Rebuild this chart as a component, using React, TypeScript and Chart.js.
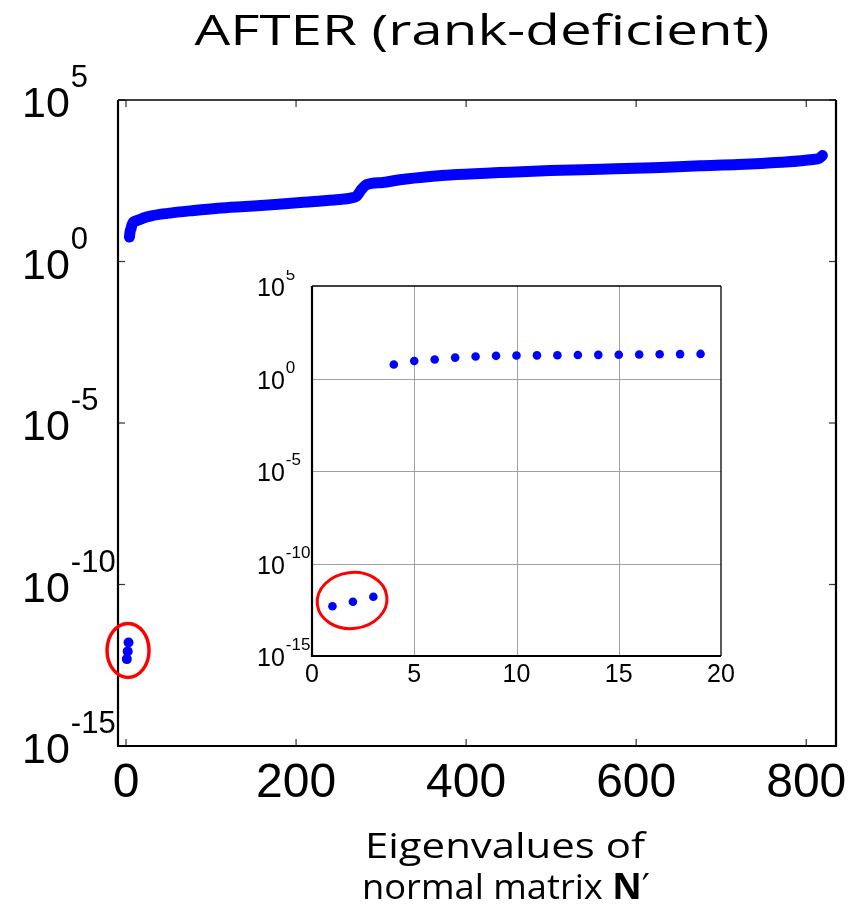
import React, { useEffect, useRef } from "react";
import { Chart, registerables } from "chart.js";
Chart.register(...registerables);

// ---------- data ----------
const TITLE = "AFTER (rank-deficient)";
const XTITLE_1 = "Eigenvalues of";
const XTITLE_2 = "normal matrix ";
const XTITLE_2_BOLD = "N";
const XTITLE_2_END = "\u2032";

const mainXTicks = [0, 200, 400, 600, 800];
const logExps = [5, 0, -5, -10, -15];
const insetXTicks = [0, 5, 10, 15, 20];
const insetGridX = [5, 10, 15];
const insetGridExps = [0, -5, -10];

// near-zero eigenvalues (rank deficiency)
const nullIdx = [1, 2, 3];
const nullVals = [4.9e-13, 8.5e-13, 1.6e-12];

// first regular eigenvalues
const insetIdx = [4, 5, 6, 7, 8, 9, 10, 11, 12, 13, 14, 15, 16, 17, 18, 19];
const insetVals = [5.7, 8.9, 10.6, 13.5, 15.5, 16.8, 17.5, 17.8, 18.2, 18.6, 19, 19.4, 19.8, 20.3, 20.8, 21.3];

// rest of the spectrum
const tailIdx = [20, 30, 49, 80, 108, 140, 167, 205, 226, 250, 264, 271, 277, 283, 302, 322, 361, 381, 440, 499, 558, 620, 675, 720, 770, 808, 815, 819];
const tailVals = [22, 26, 31, 38, 44.5, 50.5, 56, 67, 73, 83, 92, 105, 170, 240, 280, 340, 437, 480, 565, 655, 720, 800, 915, 1000, 1180, 1440, 1550, 1900];

const BLUE = "#0000ff";
const RED = "#ff0000";
const TITLE_FONT = `"Open Sans"`;

function toPts(xs: number[], ys: number[]) {
  return xs.map((x, i) => ({ x, y: ys[i] }));
}

function drawPow(ctx: CanvasRenderingContext2D, x: number, tickY: number, exp: number, bigSize: number, supSize: number, baseOff: number, supOff: number) {
  ctx.textAlign = "left";
  ctx.textBaseline = "alphabetic";
  ctx.font = `${bigSize}px "Liberation Sans", Arial, sans-serif`;
  ctx.fillText("10", x, tickY + baseOff);
  const w = ctx.measureText("10").width;
  ctx.font = `${supSize}px "Liberation Sans", Arial, sans-serif`;
  ctx.fillText(String(exp), x + w + 1, tickY + supOff);
}

function fitCenter(ctx: CanvasRenderingContext2D, parts: { t: string; f: string }[], cx: number, baseline: number, target: number) {
  let total = 0;
  const ws = parts.map((p) => {
    ctx.font = p.f;
    const w = ctx.measureText(p.t).width;
    total += w;
    return w;
  });
  const s = target / total;
  ctx.save();
  ctx.translate(cx - target / 2, baseline);
  ctx.scale(s, 1);
  ctx.textAlign = "left";
  ctx.textBaseline = "alphabetic";
  let xx = 0;
  parts.forEach((p, i) => {
    ctx.font = p.f;
    ctx.fillText(p.t, xx, 0);
    xx += ws[i];
  });
  ctx.restore();
}

function seg(ctx: CanvasRenderingContext2D, x1: number, y1: number, x2: number, y2: number) {
  ctx.beginPath();
  ctx.moveTo(x1, y1);
  ctx.lineTo(x2, y2);
  ctx.stroke();
}

const mainDecor = {
  id: "mainDecor",
  afterDraw(chart: any) {
    const { ctx, chartArea: a, scales } = chart;
    const xs = scales.x;
    const ys = scales.y;
    ctx.save();
    // ticks (inward)
    ctx.strokeStyle = "#333";
    ctx.lineWidth = 1.2;
    mainXTicks.forEach((v) => {
      const px = xs.getPixelForValue(v);
      seg(ctx, px, a.bottom, px, a.bottom - 7);
      seg(ctx, px, a.top, px, a.top + 7);
    });
    logExps.forEach((e) => {
      const py = ys.getPixelForValue(Math.pow(10, e));
      seg(ctx, a.left, py, a.left + 7, py);
      seg(ctx, a.right, py, a.right - 7, py);
    });
    // frame
    ctx.strokeStyle = "#000";
    ctx.lineWidth = 1.3;
    seg(ctx, a.left, a.top, a.right, a.top);
    ctx.lineWidth = 2.2;
    ctx.beginPath();
    ctx.moveTo(a.left, a.top);
    ctx.lineTo(a.left, a.bottom);
    ctx.lineTo(a.right, a.bottom);
    ctx.lineTo(a.right, a.top);
    ctx.stroke();

    // tick labels
    ctx.fillStyle = "#000";
    ctx.font = `48px "Liberation Sans", Arial, sans-serif`;
    ctx.textAlign = "center";
    ctx.textBaseline = "alphabetic";
    mainXTicks.forEach((v) => {
      ctx.fillText(String(v), xs.getPixelForValue(v), a.bottom + 51);
    });
    logExps.forEach((e) => {
      const py = ys.getPixelForValue(Math.pow(10, e));
      drawPow(ctx, 22, py, e, 43, 31, 17, -13);
    });

    // red ellipse around null-space eigenvalues
    ctx.strokeStyle = RED;
    ctx.lineWidth = 3.5;
    ctx.beginPath();
    ctx.ellipse(xs.getPixelForValue(2.4), ys.getPixelForValue(Math.pow(10, -12.04)), 21, 27, 0, 0, Math.PI * 2);
    ctx.stroke();

    // title
    ctx.fillStyle = "#000";
    fitCenter(ctx, [{ t: TITLE, f: `42px ${TITLE_FONT}` }], 482, 45, 575);
    // x-axis title
    fitCenter(ctx, [{ t: XTITLE_1, f: `35px ${TITLE_FONT}` }], 505, 858, 280);
    fitCenter(
      ctx,
      [
        { t: XTITLE_2, f: `35px ${TITLE_FONT}` },
        { t: XTITLE_2_BOLD, f: `bold 35px ${TITLE_FONT}` },
        { t: XTITLE_2_END, f: `35px "DejaVu Sans", sans-serif` },
      ],
      506,
      899,
      288
    );
    ctx.restore();
  },
};

const insetDecor = {
  id: "insetDecor",
  beforeDatasetsDraw(chart: any) {
    const { ctx, chartArea: a, scales } = chart;
    const xs = scales.x;
    const ys = scales.y;
    ctx.save();
    ctx.fillStyle = "#fff";
    ctx.fillRect(a.left, a.top, a.right - a.left, a.bottom - a.top);
    ctx.strokeStyle = "#a0a0a0";
    ctx.lineWidth = 1;
    insetGridX.forEach((v) => {
      const px = Math.round(xs.getPixelForValue(v)) + 0.5;
      seg(ctx, px, a.top, px, a.bottom);
    });
    insetGridExps.forEach((e) => {
      const py = Math.round(ys.getPixelForValue(Math.pow(10, e))) + 0.5;
      seg(ctx, a.left, py, a.right, py);
    });
    ctx.restore();
  },
  afterDraw(chart: any) {
    const { ctx, chartArea: a, scales } = chart;
    const xs = scales.x;
    const ys = scales.y;
    ctx.save();
    ctx.strokeStyle = "#000";
    ctx.lineWidth = 1.3;
    seg(ctx, a.left, a.top, a.right, a.top);
    seg(ctx, a.right, a.top, a.right, a.bottom);
    ctx.lineWidth = 2.2;
    ctx.beginPath();
    ctx.moveTo(a.left, a.top);
    ctx.lineTo(a.left, a.bottom);
    ctx.lineTo(a.right, a.bottom);
    ctx.stroke();

    ctx.fillStyle = "#000";
    ctx.font = `25px "Liberation Sans", Arial, sans-serif`;
    ctx.textAlign = "center";
    ctx.textBaseline = "alphabetic";
    insetXTicks.forEach((v) => {
      ctx.fillText(String(v), xs.getPixelForValue(v), a.bottom + 26);
    });
    logExps.forEach((e) => {
      const py = ys.getPixelForValue(Math.pow(10, e));
      drawPow(ctx, 17, py, e, 25, 17, 10, -6);
    });

    ctx.strokeStyle = RED;
    ctx.lineWidth = 3;
    ctx.beginPath();
    ctx.ellipse(xs.getPixelForValue(1.96), ys.getPixelForValue(Math.pow(10, -12.0)), 35, 28, -0.12, 0, Math.PI * 2);
    ctx.stroke();
    ctx.restore();
  },
};

function MainChart() {
  const ref = useRef<HTMLCanvasElement>(null);
  useEffect(() => {
    const chart = new Chart(ref.current!, {
      type: "scatter",
      data: {
        datasets: [
          {
            type: "line",
            data: toPts(insetIdx.concat(tailIdx), insetVals.concat(tailVals)),
            borderColor: BLUE,
            backgroundColor: BLUE,
            borderWidth: 11,
            borderCapStyle: "round",
            borderJoinStyle: "round",
            cubicInterpolationMode: "monotone",
            pointRadius: 0,
            fill: false,
          } as any,
          {
            data: toPts(nullIdx, nullVals),
            backgroundColor: BLUE,
            borderColor: BLUE,
            pointRadius: 5,
            borderWidth: 0,
          },
        ],
      },
      options: {
        responsive: false,
        animation: false,
        layout: { padding: { left: 118, right: 19, top: 100, bottom: 160 } },
        plugins: { legend: { display: false }, tooltip: { enabled: false }, title: { display: false } },
        scales: {
          x: { type: "linear", min: -9.4, max: 835, display: false },
          y: { type: "logarithmic", min: 1e-15, max: 1e5, display: false },
        },
      },
      plugins: [mainDecor],
    });
    return () => chart.destroy();
  }, []);
  return <canvas ref={ref} width={855} height={906} style={{ position: "absolute", left: 0, top: 0 }} />;
}

function InsetChart() {
  const ref = useRef<HTMLCanvasElement>(null);
  useEffect(() => {
    const chart = new Chart(ref.current!, {
      type: "scatter",
      data: {
        datasets: [
          {
            data: toPts(nullIdx.concat(insetIdx), nullVals.concat(insetVals)),
            backgroundColor: BLUE,
            borderColor: BLUE,
            pointRadius: 4.3,
            borderWidth: 0,
          },
        ],
      },
      options: {
        responsive: false,
        animation: false,
        layout: { padding: { left: 72, right: 19, top: 16, bottom: 44 } },
        plugins: { legend: { display: false }, tooltip: { enabled: false }, title: { display: false } },
        scales: {
          x: { type: "linear", min: 0, max: 20, display: false },
          y: { type: "logarithmic", min: 1e-15, max: 1e5, display: false },
        },
      },
      plugins: [insetDecor],
    });
    return () => chart.destroy();
  }, []);
  return <canvas ref={ref} width={500} height={430} style={{ position: "absolute", left: 240, top: 270 }} />;
}

export default function App() {
  return (
    <div style={{ position: "absolute", left: 0, top: 0, width: 855, height: 906, background: "#fff" }}>
      <MainChart />
      <InsetChart />
    </div>
  );
}
